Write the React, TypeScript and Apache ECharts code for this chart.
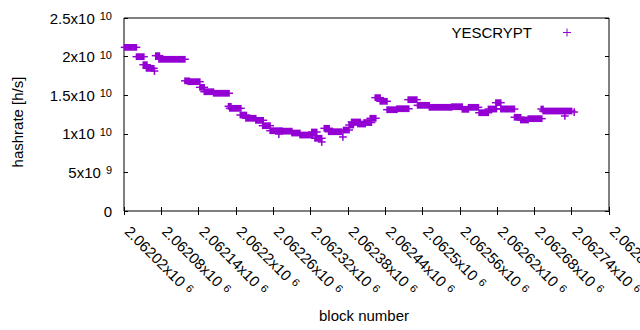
import React, { useEffect, useRef } from "react";
import * as echarts from "echarts";

// Runs of (nearly) constant hashrate: first block, last block, hashrate [h/s]
const runStart = [
  2062021, 2062040, 2062051, 2062056, 2062071, 2062076, 2062118, 2062123, 2062142, 2062149,
  2062164, 2062188, 2062190, 2062207, 2062216, 2062232, 2062243, 2062255, 2062274, 2062290,
  2062303, 2062322, 2062327, 2062342, 2062349, 2062373, 2062382, 2062386, 2062396, 2062406,
  2062416, 2062424, 2062432, 2062443, 2062459, 2062477, 2062492, 2062511, 2062547, 2062564,
  2062574, 2062591, 2062606, 2062618, 2062626, 2062648, 2062658, 2062670, 2062691, 2062694,
];
const runEnd = [
  2062040, 2062052, 2062057, 2062068, 2062077, 2062118, 2062125, 2062142, 2062149, 2062164,
  2062189, 2062192, 2062208, 2062217, 2062232, 2062244, 2062255, 2062274, 2062290, 2062303,
  2062324, 2062330, 2062338, 2062350, 2062370, 2062382, 2062389, 2062400, 2062408, 2062418,
  2062425, 2062432, 2062443, 2062459, 2062478, 2062491, 2062511, 2062547, 2062564, 2062574,
  2062590, 2062606, 2062619, 2062626, 2062648, 2062658, 2062670, 2062692, 2062694, 2062740,
];
const runValue = [
  2.12e10, 1.999e10, 1.895e10, 1.848e10, 2.012e10, 1.965e10, 1.686e10, 1.675e10, 1.602e10, 1.545e10,
  1.525e10, 1.356e10, 1.33e10, 1.243e10, 1.201e10, 1.175e10, 1.105e10, 1.04e10, 1.034e10, 1.01e10,
  0.984e10, 1.023e10, 0.942e10, 1.071e10, 1.027e10, 1.049e10, 1.114e10, 1.153e10, 1.127e10, 1.146e10,
  1.201e10, 1.468e10, 1.421e10, 1.312e10, 1.325e10, 1.442e10, 1.369e10, 1.343e10, 1.351e10, 1.317e10,
  1.343e10, 1.273e10, 1.321e10, 1.403e10, 1.321e10, 1.214e10, 1.179e10, 1.196e10, 1.321e10, 1.295e10,
];
// Isolated samples
const singleBlock = [2062069, 2062269, 2062338, 2062372, 2062729, 2062744];
const singleValue = [1.813e10, 0.997e10, 0.894e10, 0.959e10, 1.231e10, 1.282e10];

const seriesName = "YESCRYPT";
const xMin = 2062020;
const xMax = 2062800;
const xStep = 60;
const yMin = 0;
const yMax = 2.5e10;
const yStep = 5e9;

const COLOR = "#9400D3";
const FONT = '"Liberation Sans", Arial, sans-serif';

function sci(v: number): string {
  if (v === 0) return "{m|0}";
  const e = Math.floor(Math.log10(Math.abs(v)) + 1e-9);
  const m = parseFloat((v / Math.pow(10, e)).toPrecision(8));
  return `{m|${m}x10}{s|${e}}`;
}

const richY = {
  m: { fontSize: 15, fontFamily: FONT, color: "#000" },
  s: { fontSize: 11, fontFamily: FONT, color: "#000", verticalAlign: "top", padding: [0, 0, 0, 5] },
};
const richX = {
  m: { fontSize: 15, fontFamily: FONT, color: "#000", padding: [0, 0, 0, 5] },
  s: { fontSize: 11, fontFamily: FONT, color: "#000", verticalAlign: "top", padding: [0, 0, 0, 5] },
};

export default function App() {
  const ref = useRef<HTMLDivElement>(null);
  useEffect(() => {
    if (!ref.current) return;
    const chart = echarts.init(ref.current, undefined, { renderer: "svg" });
    const h = 3.4;
    const runs = runStart.map((s, i) => [s, runEnd[i], runValue[i]]);
    const singles = singleBlock.map((b, i) => [b, singleValue[i]]);
    const tickCommon = {
      axisLine: { show: false },
      axisTick: { show: true, inside: true, length: 4, lineStyle: { color: "#000", width: 1 } },
      splitLine: { show: false },
    };
    chart.setOption({
      animation: false,
      grid: {
        left: 124, right: 31, top: 18, bottom: 119,
        containLabel: false, outerBoundsMode: "none",
        show: true, borderColor: "#000", borderWidth: 1, backgroundColor: "transparent",
      },
      xAxis: [
        {
          type: "value", min: xMin, max: xMax, interval: xStep, position: "bottom",
          ...tickCommon,
          axisLabel: {
            rotate: -45, margin: 14, showMinLabel: true, showMaxLabel: true, hideOverlap: false,
            formatter: (v: number) => sci(v), rich: richX,
          },
        },
        {
          type: "value", min: xMin, max: xMax, interval: xStep, position: "top",
          ...tickCommon, axisLabel: { show: false },
        },
      ],
      yAxis: [
        {
          type: "value", min: yMin, max: yMax, interval: yStep, position: "left",
          ...tickCommon,
          axisLabel: { margin: 12, formatter: (v: number) => sci(v), rich: richY },
        },
        {
          type: "value", min: yMin, max: yMax, interval: yStep, position: "right",
          ...tickCommon, axisLabel: { show: false },
        },
      ],
      series: [
        {
          name: seriesName,
          type: "custom",
          xAxisIndex: 0, yAxisIndex: 0,
          data: runs,
          encode: { x: [0, 1], y: 2 },
          renderItem: (_p: any, api: any) => {
            const s = api.coord([api.value(0), api.value(2)]);
            const e = api.coord([api.value(1), api.value(2)]);
            return {
              type: "group",
              children: [
                { type: "rect", shape: { x: s[0] - 0.75, y: s[1] - h, width: e[0] - s[0] + 1.5, height: 2 * h }, style: { fill: COLOR } },
                { type: "line", shape: { x1: s[0] - h - 0.5, y1: s[1], x2: e[0] + h + 0.5, y2: s[1] }, style: { stroke: COLOR, lineWidth: 1.5 } },
              ],
            };
          },
        },
        {
          name: seriesName + " samples",
          type: "custom",
          xAxisIndex: 0, yAxisIndex: 0,
          data: singles,
          encode: { x: 0, y: 1 },
          renderItem: (_p: any, api: any) => {
            const p = api.coord([api.value(0), api.value(1)]);
            return {
              type: "group",
              children: [
                { type: "line", shape: { x1: p[0] - h - 0.5, y1: p[1], x2: p[0] + h + 0.5, y2: p[1] }, style: { stroke: COLOR, lineWidth: 1.5 } },
                { type: "line", shape: { x1: p[0], y1: p[1] - h - 0.5, x2: p[0], y2: p[1] + h + 0.5 }, style: { stroke: COLOR, lineWidth: 1.5 } },
              ],
            };
          },
        },
      ],
      graphic: [
        {
          type: "text", x: 17, y: 122, rotation: Math.PI / 2,
          style: { text: "hashrate [h/s]", font: `15px ${FONT}`, fill: "#000", align: "center", verticalAlign: "middle" },
        },
        {
          type: "text", x: 364, y: 315,
          style: { text: "block number", font: `15px ${FONT}`, fill: "#000", align: "center", verticalAlign: "middle" },
        },
        {
          type: "text", x: 532, y: 32,
          style: { text: seriesName, font: `15px ${FONT}`, fill: "#000", align: "right", verticalAlign: "middle" },
        },
        { type: "line", shape: { x1: 563, y1: 32.5, x2: 571, y2: 32.5 }, style: { stroke: COLOR, lineWidth: 1 } },
        { type: "line", shape: { x1: 567, y1: 28.5, x2: 567, y2: 36.5 }, style: { stroke: COLOR, lineWidth: 1 } },
      ],
    });
    return () => chart.dispose();
  }, []);
  return <div ref={ref} style={{ position: "fixed", left: 0, top: 0, width: 640, height: 330, background: "#fff" }} />;
}
